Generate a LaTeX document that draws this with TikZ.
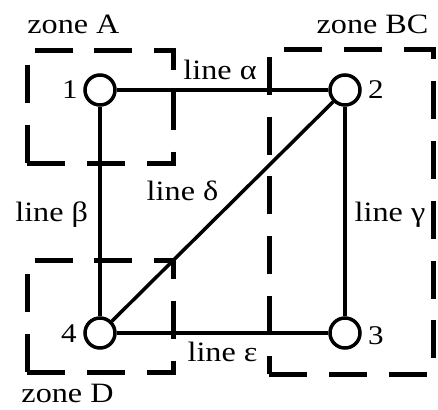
\documentclass[tikz,border=0pt]{standalone}
\usepackage{fontspec}
\setmainfont{Liberation Serif}[FakeStretch=1.15]
\begin{document}
\begin{tikzpicture}[x=1pt,y=-1pt,
  vtx/.style={circle,draw,line width=3.5pt,minimum size=30pt,inner sep=0pt,fill=white},
  edge/.style={line width=3.5pt},
  zonesmall/.style={line width=5pt,dash pattern=on 38pt off 21.75pt},
  zonebig/.style={line width=5pt,dash pattern=on 38pt off 21.875pt,dash phase=20pt},
  lbl/.style={font=\fontsize{28}{30}\selectfont,anchor=base,inner sep=0pt},
  num/.style={font=\fontsize{27}{29}\selectfont,anchor=base,inner sep=0pt}]
\useasboundingbox (0,0) rectangle (438,409);
% zones
\draw[zonesmall] (27,163) -- (27,51) -- (173,51) -- (173,163) -- cycle;
\draw[zonesmall] (27,372) -- (27,260) -- (173,260) -- (173,372) -- cycle;
\draw[zonebig] (269,374) -- (269,50) -- (433,50) -- (433,374) -- cycle;
% vertices
\node[vtx] (n1) at (100,90) {};
\node[vtx] (n2) at (345,90) {};
\node[vtx] (n3) at (345,333) {};
\node[vtx] (n4) at (100,333) {};
% edges
\draw[edge] (n1) -- (n2);
\draw[edge] (n1) -- (n4);
\draw[edge] (n2) -- (n3);
\draw[edge] (n4) -- (n2);
\draw[edge] (n4) -- (n3);
% vertex labels
\node[num] (t1) at (70,98.5) {1};
\node[num] (t2) at (376,98.5) {2};
\node[num] (t3) at (376,344) {3};
\node[num] (t4) at (69,342) {4};
% zone labels
\node[lbl] (za) at (73.4,34) {zone A};
\node[lbl] (zbc) at (372.5,34) {zone BC};
\node[lbl] (zd) at (67.5,402) {zone D};
% line labels
\node[lbl] (la) at (220,79.3) {line α};
\node[lbl] (lb) at (51.7,221.7) {line β};
\node[lbl] (lg) at (390,221.7) {line γ};
\node[lbl] (ld) at (182.5,200) {line δ};
\node[lbl] (le) at (222.5,361.7) {line ε};
\end{tikzpicture}
\end{document}
